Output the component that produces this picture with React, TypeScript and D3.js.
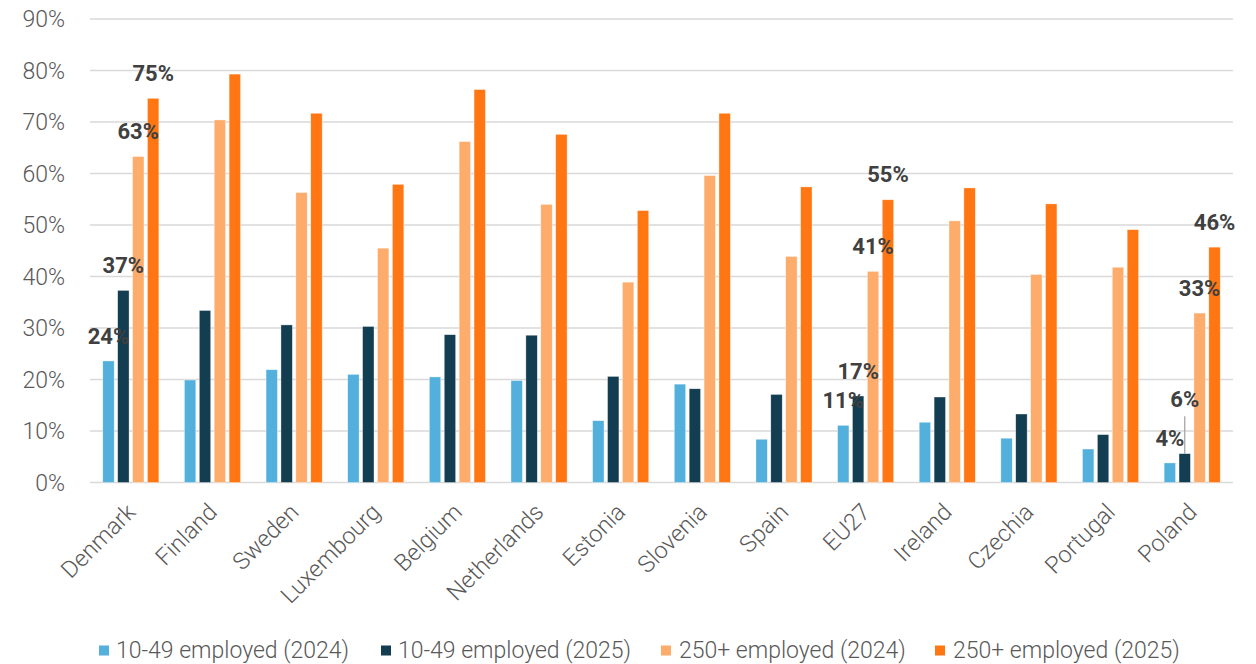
import React from "react";
import * as d3 from "d3";

const categories = ["Denmark", "Finland", "Sweden", "Luxembourg", "Belgium", "Netherlands", "Estonia", "Slovenia", "Spain", "EU27", "Ireland", "Czechia", "Portugal", "Poland"];
const seriesNames = ["10-49 employed (2024)", "10-49 employed (2025)", "250+ employed (2024)", "250+ employed (2025)"];
const small2024 = [23.6, 19.9, 21.9, 21.0, 20.5, 19.8, 12.0, 19.1, 8.4, 11.1, 11.7, 8.6, 6.5, 3.8];
const small2025 = [37.3, 33.4, 30.6, 30.3, 28.7, 28.6, 20.6, 18.2, 17.1, 16.8, 16.6, 13.3, 9.3, 5.6];
const large2024 = [63.3, 70.4, 56.3, 45.5, 66.2, 54.0, 38.9, 59.6, 43.9, 41.0, 50.8, 40.4, 41.8, 32.9];
const large2025 = [74.6, 79.3, 71.7, 57.9, 76.3, 67.6, 52.8, 71.7, 57.4, 54.9, 57.2, 54.1, 49.1, 45.7];
const yTicks = [0, 10, 20, 30, 40, 50, 60, 70, 80, 90];
const labelledCategories = ["Denmark", "EU27", "Poland"];

const seriesValues = [small2024, small2025, large2024, large2025];
const colors = ["#53B0DC", "#133D50", "#FDAC6B", "#FF7612"];

const W = 1256;
const H = 664;
const plot = { left: 90, right: 1233, top: 19, bottom: 482.5 };
const FONT = "Roboto, 'Noto Sans', sans-serif";

export default function App() {
  const x = d3.scaleBand<string>().domain(categories).range([plot.left, plot.right]).paddingInner(0).paddingOuter(0);
  const y = d3.scaleLinear().domain([0, 90]).range([plot.bottom, plot.top]);
  const slot = 14.9;
  const barW = 11.4;
  const groupW = slot * 3 + barW;
  const barX = (cat: string, s: number) => (x(cat) as number) + (x.bandwidth() - groupW) / 2 + s * slot;
  const fmt = (v: number) => `${Math.round(v)}%`;

  // the Poland 10-49 (2025) label sits higher, joined to its bar by a leader line
  const liftedLabel = { cat: "Poland", series: 1, lift: 29 };

  const legendItems = [
    { mx: 99, tx: 116 },
    { mx: 381, tx: 398 },
    { mx: 661, tx: 679 },
    { mx: 935, tx: 953 },
  ];

  return (
    <svg width={W} height={H} style={{ position: "absolute", left: 0, top: 0, background: "#fff" }}>
      {/* gridlines */}
      {yTicks.map((t) => (
        <line key={t} x1={plot.left} x2={plot.right} y1={y(t)} y2={y(t)} stroke="#D9D9D9" strokeWidth={1.5} />
      ))}
      {/* y tick labels */}
      {yTicks.map((t) => (
        <text key={t} x={65} y={y(t)} dy="0.36em" textAnchor="end" fontFamily={FONT} fontWeight={300} fontSize={23} fill="#595959">
          {`${t}%`}
        </text>
      ))}
      {/* bars */}
      {seriesValues.map((vals, s) =>
        categories.map((cat, i) => (
          <rect
            key={`${s}-${cat}`}
            x={barX(cat, s)}
            y={y(vals[i])}
            width={barW}
            height={y(0) - y(vals[i])}
            fill={colors[s]}
            stroke="#fff"
            strokeOpacity={0.6}
            strokeWidth={0.6}
          />
        ))
      )}
      {/* data labels */}
      {seriesValues.map((vals, s) =>
        categories.map((cat, i) => {
          if (!labelledCategories.includes(cat)) return null;
          const cx = barX(cat, s) + barW / 2;
          const top = y(vals[i]);
          const lifted = liftedLabel.cat === cat && liftedLabel.series === s;
          const by = top - 17.3 - (lifted ? liftedLabel.lift : 0);
          return (
            <g key={`l-${s}-${cat}`}>
              {lifted && <line x1={cx} x2={cx} y1={by + 9} y2={top} stroke="#A6A6A6" strokeWidth={1.3} />}
              <text x={cx} y={by} textAnchor="middle" fontFamily={FONT} fontWeight={700} fontSize={22} fill="#404040">
                {fmt(vals[i])}
              </text>
            </g>
          );
        })
      )}
      {/* category labels */}
      {categories.map((cat) => {
        const cx = (x(cat) as number) + x.bandwidth() / 2;
        return (
          <text
            key={cat}
            transform={`translate(${cx + 6},${plot.bottom + 31}) rotate(-45)`}
            textAnchor="end"
            fontFamily={FONT}
            fontWeight={300}
            fontSize={23.5}
            fill="#595959"
          >
            {cat}
          </text>
        );
      })}
      {/* legend */}
      {seriesNames.map((name, s) => (
        <g key={name}>
          <rect x={legendItems[s].mx} y={645.5} width={10} height={10} fill={colors[s]} />
          <text x={legendItems[s].tx} y={649.5} dy="0.36em" fontFamily={FONT} fontWeight={300} fontSize={23} fill="#595959">
            {name}
          </text>
        </g>
      ))}
    </svg>
  );
}
